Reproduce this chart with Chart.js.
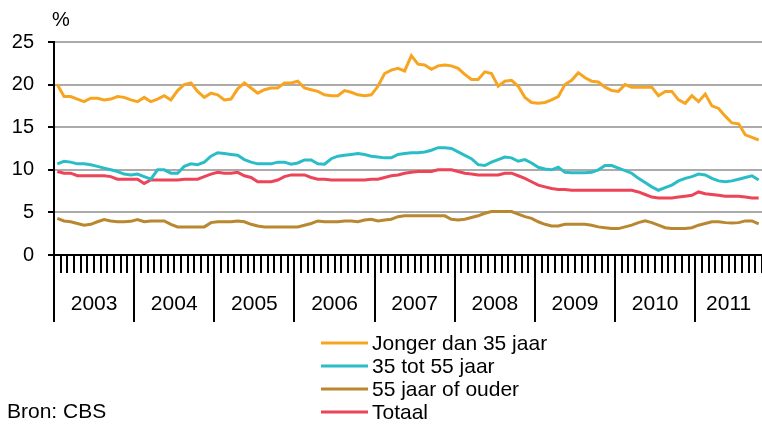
<!DOCTYPE html>
<html lang="nl">
<head>
<meta charset="utf-8">
<title>Werkloosheid naar leeftijd</title>
<script src="https://cdn.jsdelivr.net/npm/chart.js@4.4.1/dist/chart.umd.min.js"></script>
<style>
  html, body { margin: 0; padding: 0; background: #fff; }
  #chart-wrap { width: 762px; height: 424px; }
</style>
</head>
<body>
<div id="chart-wrap"><canvas id="werkloos-chart" width="762" height="424"></canvas></div>
<script>
const years = ["2003", "2004", "2005", "2006", "2007", "2008", "2009", "2010", "2011"];
const monthsPerYear = [12, 12, 12, 12, 12, 12, 12, 12, 10];
const yTicks = [0, 5, 10, 15, 20, 25];
const unitLabel = "%";
const sourceLabel = "Bron: CBS";

const seriesNames = ["Jonger dan 35 jaar", "35 tot 55 jaar", "55 jaar of ouder", "Totaal"];
const seriesColors = ["#F7A521", "#2BBDC7", "#B9872F", "#EC4459"];

const jongerDan35 = [
  20.0, 18.6, 18.6, 18.3, 18.0, 18.4, 18.4, 18.2, 18.3, 18.6, 18.5, 18.2,
  18.0, 18.5, 18.0, 18.3, 18.7, 18.2, 19.3, 20.0, 20.2, 19.2, 18.5, 19.0,
  18.8, 18.2, 18.3, 19.5, 20.2, 19.6, 19.0, 19.4, 19.6, 19.6, 20.2, 20.2,
  20.4, 19.6, 19.4, 19.2, 18.8, 18.7, 18.7, 19.3, 19.1, 18.8, 18.7, 18.8,
  19.8, 21.3, 21.7, 21.9, 21.6, 23.4, 22.4, 22.3, 21.8, 22.2, 22.3, 22.2,
  21.9, 21.2, 20.6, 20.6, 21.5, 21.3, 19.8, 20.4, 20.5, 19.8, 18.5, 17.9,
  17.8, 17.9, 18.2, 18.6, 20.0, 20.5, 21.4, 20.8, 20.4, 20.3, 19.7, 19.3,
  19.2, 20.0, 19.7, 19.7, 19.7, 19.7, 18.7, 19.2, 19.2, 18.2, 17.8, 18.7,
  18.0, 18.9, 17.5, 17.2, 16.3, 15.5, 15.4, 14.1, 13.8, 13.5
];

const tot55 = [
  10.7, 11.0, 10.9, 10.7, 10.7, 10.6, 10.4, 10.2, 10.0, 9.8, 9.5, 9.4,
  9.5, 9.2, 8.9, 10.0, 10.0, 9.6, 9.6, 10.4, 10.7, 10.6, 10.9, 11.6,
  12.0, 11.9, 11.8, 11.7, 11.2, 10.9, 10.7, 10.7, 10.7, 10.9, 10.9, 10.65,
  10.8, 11.15, 11.15, 10.7, 10.65, 11.3, 11.6, 11.7, 11.8, 11.9, 11.8, 11.6,
  11.5, 11.4, 11.4, 11.8, 11.9, 12.0, 12.0, 12.1, 12.3, 12.6, 12.6, 12.5,
  12.1, 11.7, 11.3, 10.6, 10.5, 10.9, 11.2, 11.5, 11.4, 11.0, 11.2, 10.8,
  10.3, 10.1, 10.0, 10.3, 9.7, 9.65, 9.65, 9.65, 9.7, 10.0, 10.5, 10.5,
  10.2, 9.9, 9.6, 9.0, 8.5, 8.0, 7.6, 7.9, 8.2, 8.7, 9.0, 9.2,
  9.5, 9.4, 9.0, 8.7, 8.6, 8.7, 8.9, 9.1, 9.3, 8.8
];

const ouderDan55 = [
  4.3, 4.0, 3.9, 3.7, 3.5, 3.6, 3.9, 4.15, 4.0, 3.9, 3.9, 3.95,
  4.15, 3.9, 4.0, 4.0, 4.0, 3.6, 3.3, 3.3, 3.3, 3.3, 3.3, 3.8,
  3.9, 3.9, 3.9, 4.0, 3.9, 3.6, 3.4, 3.3, 3.3, 3.3, 3.3, 3.3,
  3.3, 3.5, 3.7, 4.0, 3.9, 3.9, 3.9, 4.0, 4.0, 3.9, 4.1, 4.2,
  4.0, 4.1, 4.2, 4.5, 4.6, 4.6, 4.6, 4.6, 4.6, 4.6, 4.6, 4.2,
  4.1, 4.2, 4.4, 4.6, 4.9, 5.1, 5.1, 5.1, 5.1, 4.8, 4.5, 4.3,
  3.9, 3.6, 3.4, 3.4, 3.6, 3.6, 3.6, 3.6, 3.5, 3.3, 3.2, 3.1,
  3.1, 3.3, 3.5, 3.8, 4.0, 3.8, 3.5, 3.2, 3.1, 3.1, 3.1, 3.2,
  3.5, 3.7, 3.9, 3.9, 3.8, 3.75, 3.8, 4.0, 4.0, 3.65
];

const totaal = [
  9.8, 9.6, 9.6, 9.3, 9.3, 9.3, 9.3, 9.3, 9.2, 8.9, 8.9, 8.9,
  8.9, 8.4, 8.8, 8.8, 8.8, 8.8, 8.8, 8.9, 8.9, 8.9, 9.2, 9.5,
  9.7, 9.6, 9.6, 9.7, 9.3, 9.1, 8.6, 8.6, 8.6, 8.8, 9.2, 9.4,
  9.4, 9.4, 9.1, 8.9, 8.9, 8.8, 8.8, 8.8, 8.8, 8.8, 8.8, 8.9,
  8.9, 9.1, 9.3, 9.4, 9.6, 9.7, 9.8, 9.8, 9.8, 10.0, 10.0, 10.0,
  9.8, 9.6, 9.5, 9.4, 9.4, 9.4, 9.4, 9.6, 9.6, 9.3, 9.0, 8.6,
  8.2, 8.0, 7.8, 7.7, 7.7, 7.6, 7.6, 7.6, 7.6, 7.6, 7.6, 7.6,
  7.6, 7.6, 7.6, 7.4, 7.1, 6.8, 6.7, 6.7, 6.7, 6.8, 6.9, 7.0,
  7.4, 7.2, 7.1, 7.0, 6.9, 6.9, 6.9, 6.8, 6.7, 6.7
];

const seriesValues = [jongerDan35, tot55, ouderDan55, totaal];

// one category per month, e.g. "2003-01"
function buildMonthLabels() {
  const labels = [];
  years.forEach((year, idx) => {
    for (let m = 1; m <= monthsPerYear[idx]; m++) {
      labels.push(`${year}-${String(m).padStart(2, "0")}`);
    }
  });
  return labels;
}

const monthLabels = buildMonthLabels();
const FONT = "'Liberation Sans', Arial, sans-serif";

// month ticks, year separators + labels, legend and source text
const axisExtras = {
  id: "axisExtras",
  afterDraw(chart) {
    const { ctx, chartArea, scales } = chart;
    const xScale = scales.x;
    const slot = xScale.getPixelForValue(1) - xScale.getPixelForValue(0);
    const bottom = chartArea.bottom;
    const boundary = (i) => xScale.getPixelForValue(i) - slot / 2;

    ctx.save();
    ctx.strokeStyle = "#000";
    ctx.lineWidth = 2;
    let yearStart = 0;
    const yearStarts = [];
    monthsPerYear.forEach((n) => {
      yearStarts.push(yearStart);
      yearStart += n;
    });
    for (let i = 0; i <= monthLabels.length; i++) {
      const px = Math.round(boundary(i));
      if (px > chartArea.right + 1) continue;
      const isYear = yearStarts.includes(i);
      ctx.beginPath();
      ctx.moveTo(px, bottom);
      ctx.lineTo(px, isYear ? bottom + 67 : bottom + 18);
      ctx.stroke();
    }

    ctx.fillStyle = "#000";
    ctx.font = `21px ${FONT}`;
    ctx.textAlign = "center";
    ctx.textBaseline = "middle";
    years.forEach((year, idx) => {
      const x0 = boundary(yearStarts[idx]);
      const x1 = Math.min(boundary(yearStarts[idx] + monthsPerYear[idx]), chartArea.right);
      ctx.fillText(year, (x0 + x1) / 2, bottom + 49);
    });

    ctx.textAlign = "left";
    ctx.font = `20px ${FONT}`;
    ctx.fillText(unitLabel, 52, 20);
    ctx.font = `21px ${FONT}`;
    ctx.fillText(sourceLabel, 7, 412);

    chart.data.datasets.forEach((ds, idx) => {
      const y = 343 + idx * 23;
      ctx.strokeStyle = ds.borderColor;
      ctx.lineWidth = 3;
      ctx.beginPath();
      ctx.moveTo(321, y);
      ctx.lineTo(368, y);
      ctx.stroke();
      ctx.fillStyle = "#000";
      ctx.fillText(ds.label, 372, y + 1);
    });
    ctx.restore();
  }
};

function buildDatasets() {
  return seriesNames.map((name, idx) => ({
    label: name,
    data: seriesValues[idx],
    borderColor: seriesColors[idx],
    backgroundColor: seriesColors[idx],
    borderWidth: 3,
    pointRadius: 0,
    tension: 0,
    fill: false
  }));
}

Chart.defaults.font.family = FONT;
Chart.defaults.color = "#000";

new Chart(document.getElementById("werkloos-chart"), {
  type: "line",
  data: {
    labels: monthLabels,
    datasets: buildDatasets()
  },
  options: {
    responsive: false,
    animation: false,
    devicePixelRatio: 1,
    layout: { padding: { top: 42, right: 0, left: 0, bottom: 0 } },
    plugins: {
      legend: { display: false },
      tooltip: { enabled: false }
    },
    scales: {
      x: {
        type: "category",
        offset: true,
        ticks: { display: false },
        grid: { display: false, offset: true },
        border: { display: true, color: "#000", width: 2 },
        afterFit(scale) {
          scale.height = 169;
        }
      },
      y: {
        min: yTicks[0],
        max: yTicks[yTicks.length - 1],
        afterBuildTicks(scale) {
          scale.ticks = yTicks.map((v) => ({ value: v }));
        },
        ticks: {
          font: { size: 20 },
          color: "#000",
          padding: 14
        },
        grid: {
          color: "#ABABAB",
          lineWidth: 2,
          tickColor: "#000",
          tickLength: 6
        },
        border: { display: true, color: "#000", width: 2 },
        afterFit(scale) {
          scale.width = 54;
        }
      }
    }
  },
  plugins: [axisExtras]
});
</script>
</body>
</html>
